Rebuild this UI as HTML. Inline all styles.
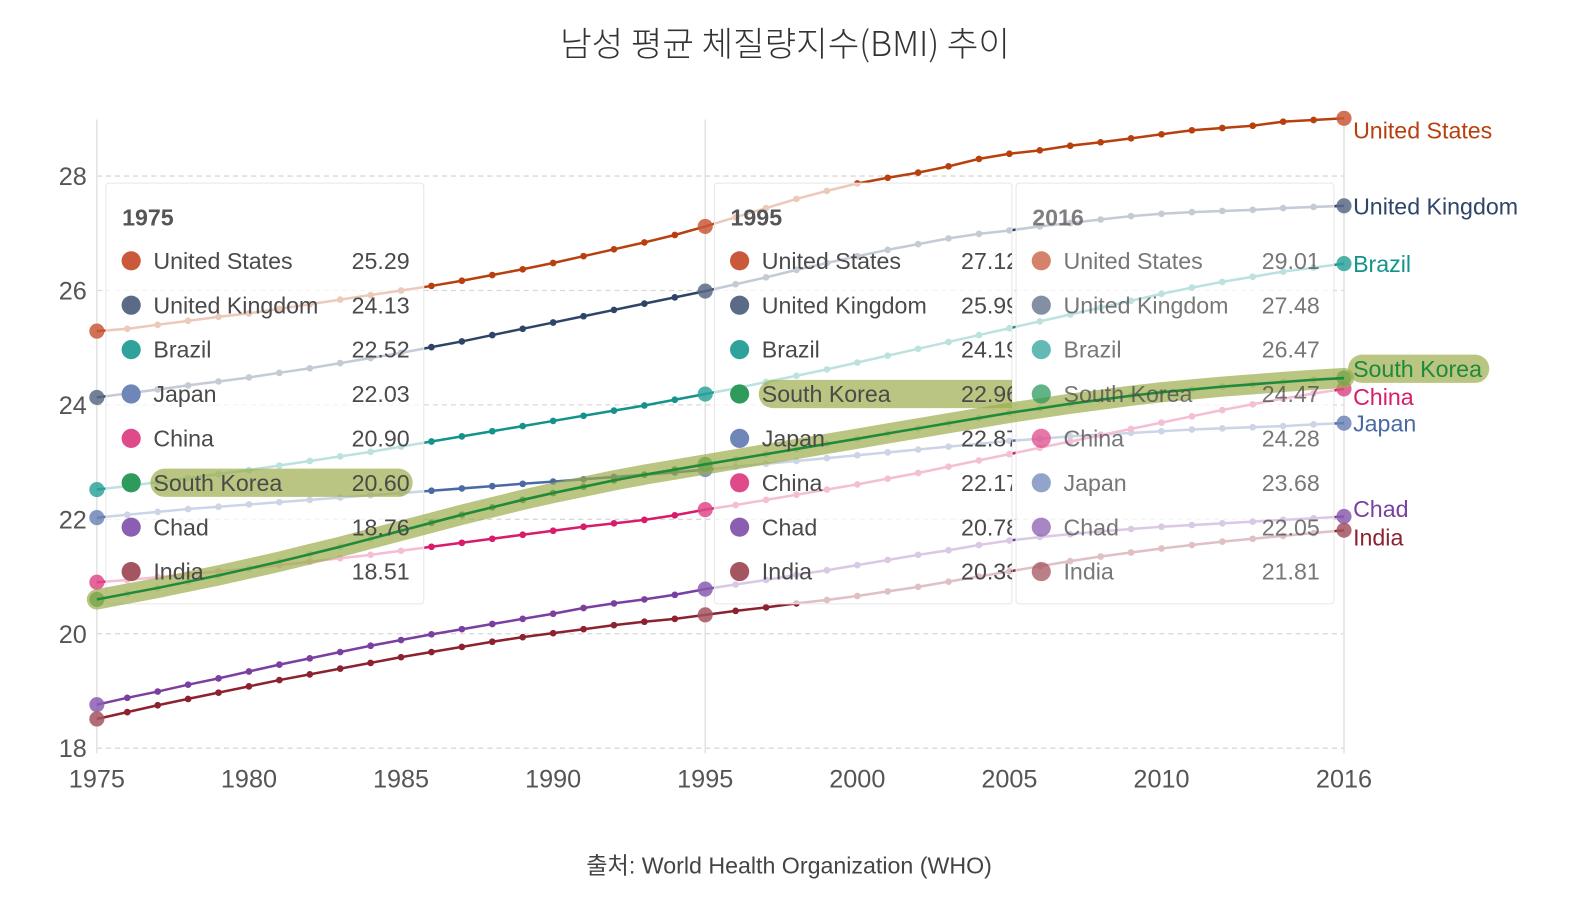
<!DOCTYPE html>
<html><head><meta charset="utf-8">
<style>
html,body{margin:0;padding:0;background:#fff;}
svg{display:block;font-family:"Liberation Sans","Noto Sans CJK KR",sans-serif;}
</style></head>
<body>
<svg width="1580" height="900" viewBox="0 0 1580 900">
<g id="c" transform="translate(0,1.5) scale(1.009)">
<text x="778" y="54" text-anchor="middle" font-size="34" fill="#333" font-family="'Noto Sans CJK KR','Liberation Sans',sans-serif" font-weight="300">남성 평균 체질량지수(BMI) 추이</text>
<text x="782" y="864" text-anchor="middle" font-size="23" fill="#444" font-family="'Liberation Sans','Noto Sans CJK KR',sans-serif">출처: World Health Organization (WHO)</text>
</g>
</svg>
<script>
const years=[];for(let y=1975;y<=2016;y++)years.push(y);
const yTicks=[18,20,22,24,26,28];
const xTicks=[1975,1980,1985,1990,1995,2000,2005,2010,2016];
const names=["United States","United Kingdom","Brazil","Japan","China","South Korea","Chad","India"];
const colors=["#b8400f","#2f4468","#13938b","#4a6aa5","#d81b6a","#1e8a3a","#7a3fa0","#8c2230"];
const dotColors=["#c9593a","#5a6b86","#2fa39b","#6f86b8","#df4a8a","#2e9a5c","#8a5eb0","#a55560"];
const usData=[25.29,25.33,25.40,25.47,25.54,25.60,25.68,25.76,25.84,25.92,26.00,26.08,26.17,26.27,26.37,26.48,26.60,26.72,26.84,26.97,27.12,27.28,27.44,27.60,27.74,27.87,27.97,28.06,28.17,28.30,28.39,28.45,28.53,28.59,28.66,28.73,28.80,28.84,28.88,28.95,28.98,29.01];
const ukData=[24.13,24.20,24.27,24.34,24.41,24.48,24.56,24.64,24.73,24.82,24.91,25.01,25.11,25.22,25.33,25.44,25.55,25.66,25.77,25.88,25.99,26.11,26.23,26.36,26.48,26.60,26.71,26.81,26.91,26.99,27.05,27.12,27.18,27.24,27.30,27.34,27.37,27.39,27.41,27.44,27.46,27.48];
const brData=[22.52,22.58,22.65,22.72,22.79,22.86,22.94,23.02,23.10,23.18,23.27,23.36,23.45,23.54,23.63,23.72,23.81,23.90,23.99,24.09,24.19,24.29,24.40,24.51,24.62,24.74,24.86,24.98,25.10,25.22,25.34,25.46,25.58,25.70,25.82,25.94,26.05,26.15,26.24,26.33,26.40,26.47];
const jpData=[22.03,22.08,22.13,22.18,22.22,22.26,22.30,22.34,22.38,22.42,22.46,22.50,22.54,22.58,22.62,22.66,22.70,22.74,22.78,22.82,22.87,22.92,22.97,23.02,23.07,23.12,23.17,23.22,23.27,23.32,23.37,23.41,23.45,23.48,23.51,23.54,23.57,23.59,23.61,23.63,23.66,23.68];
const cnData=[20.90,20.94,20.99,21.04,21.09,21.14,21.20,21.26,21.32,21.38,21.45,21.52,21.59,21.66,21.73,21.80,21.87,21.93,21.99,22.07,22.17,22.25,22.34,22.43,22.52,22.61,22.71,22.81,22.92,23.03,23.14,23.25,23.36,23.47,23.58,23.69,23.80,23.91,24.01,24.11,24.20,24.28];
const krData=[20.60,20.70,20.80,20.91,21.02,21.14,21.26,21.39,21.52,21.66,21.80,21.94,22.08,22.21,22.34,22.46,22.57,22.68,22.78,22.87,22.96,23.05,23.14,23.23,23.32,23.41,23.50,23.59,23.68,23.77,23.86,23.94,24.02,24.09,24.16,24.22,24.27,24.32,24.36,24.40,24.44,24.47];
const tdData=[18.76,18.88,18.99,19.11,19.22,19.34,19.46,19.57,19.68,19.79,19.89,19.99,20.08,20.17,20.26,20.35,20.45,20.53,20.60,20.68,20.78,20.86,20.94,21.03,21.11,21.20,21.29,21.38,21.46,21.55,21.63,21.69,21.74,21.79,21.83,21.87,21.90,21.93,21.96,21.99,22.02,22.05];
const inData=[18.51,18.63,18.75,18.86,18.97,19.08,19.19,19.29,19.39,19.49,19.59,19.68,19.77,19.86,19.94,20.01,20.08,20.15,20.21,20.26,20.33,20.40,20.46,20.53,20.59,20.66,20.74,20.82,20.91,21.00,21.09,21.18,21.27,21.35,21.42,21.49,21.55,21.61,21.66,21.71,21.76,21.81];
const series=[usData,ukData,brData,jpData,cnData,krData,tdData,inData];
const tipYears=[1975,1995,2016];
const tipOrders=[[0,1,2,3,4,5,6,7],[0,1,2,5,3,4,6,7],[0,1,2,5,4,3,6,7]];
const labelYs=[128,203,260,418,392,364,503,531];

const NS="http://www.w3.org/2000/svg";
const svg=document.getElementById('c');
const X=v=>96+(v-1975)*(1332-96)/41;
const Y=v=>173+(28-v)*56.7;
function mk(tag,attrs,parent){const e=document.createElementNS(NS,tag);for(const k in attrs)e.setAttribute(k,attrs[k]);(parent||svg).appendChild(e);return e;}
function pts(d){return d.map((v,i)=>X(years[i]).toFixed(1)+','+Y(v).toFixed(1)).join(' ');}

yTicks.forEach(t=>{
  const g=mk('line',{x1:96,x2:1332,y1:Y(t),y2:Y(t),stroke:'#d8d8d8','stroke-width':1.3,'stroke-dasharray':'5,4'});
  
  
  const l=mk('text',{x:86,y:Y(t)+9,'text-anchor':'end','font-size':25,fill:'#555'});
  l.textContent=t;
  
  
});
xTicks.forEach(t=>{
  const l=mk('text',{x:X(t),y:779,'text-anchor':'middle','font-size':25,fill:'#555'});
  l.textContent=t;
  
  
});
const ax=mk('line',{x1:96,x2:96,y1:117,y2:745,stroke:'#e2e2e2','stroke-width':1.5});


const ch=mk('line',{x1:X(1995),x2:X(1995),y1:117,y2:745,stroke:'#e2e2e2','stroke-width':1.5});


const ch2=mk('line',{x1:X(2016),x2:X(2016),y1:117,y2:745,stroke:'#e2e2e2','stroke-width':1.5});



series.forEach((d,s)=>{
  const g=mk('g',{});
  
  
  mk('polyline',{points:pts(d),fill:'none',stroke:colors[s],'stroke-width':2.5},g);
  d.forEach((v,i)=>{
    const big=tipYears.includes(years[i]);
    const c=mk('circle',{cx:X(years[i]),cy:Y(v),r:big?7.5:3.3,fill:big?dotColors[s]:colors[s],'fill-opacity':big?0.85:1},g);
    
    
  });
});

const boxes=[[105,315],[708,295],[1007,315]];
boxes.forEach((b,k)=>{
  const g=mk('g',{});
  
  
  const cp=mk('clipPath',{id:'clip'+k},g);
  mk('rect',{x:b[0],y:180,width:b[1],height:417},cp);
  mk('rect',{x:b[0],y:180,width:b[1],height:417,rx:3,fill:'#fff','fill-opacity':0.72,stroke:'#e6e6e6','stroke-width':1},g);
});

const band=mk('polyline',{points:pts(krData),fill:'none',stroke:'#9bad4a','stroke-opacity':0.7,'stroke-width':20,'stroke-linecap':'round','stroke-linejoin':'round'});


const kr=mk('polyline',{points:pts(krData),fill:'none',stroke:'#1e8a3a','stroke-width':2.5});


const krLabelBand=mk('rect',{x:1336,y:350,width:140,height:28,rx:14,fill:'#9bad4a','fill-opacity':0.7});



boxes.forEach((b,k)=>{
  const g=mk('g',{'clip-path':'url(#clip'+k+')',opacity:k==2?0.75:1});
  
  
  const x0=b[0];
  const h=mk('text',{x:x0+16,y:222,'font-size':23,'font-weight':'bold',fill:'#555'},g);
  h.textContent=tipYears[k];
  const idx=years.indexOf(tipYears[k]);
  const valX=k==1?x0+302:x0+301;
  tipOrders[k].forEach((s,r)=>{
    const yy=257+r*44;
    if(s===5 && k<2){
      const p=mk('rect',{x:x0+44,y:yy-14,width:(k==0?260:290),height:28,rx:14,fill:'#9bad4a','fill-opacity':0.7},g);
      
      
    }
    mk('circle',{cx:x0+25,cy:yy,r:9.5,fill:dotColors[s]},g);
    const t=mk('text',{x:x0+47,y:yy+8,'font-size':23,fill:'#4a4a4a'},g);
    t.textContent=names[s];
    
    
    const v=mk('text',{x:valX,y:yy+8,'font-size':23,fill:'#4a4a4a','text-anchor':'end'},g);
    v.textContent=series[s][idx].toFixed(2);
    
    
  });
});

names.forEach((n,s)=>{
  const t=mk('text',{x:1341,y:labelYs[s]+8,'font-size':23,fill:colors[s]});
  t.textContent=n;
  
  
});
</script>
</body></html>
